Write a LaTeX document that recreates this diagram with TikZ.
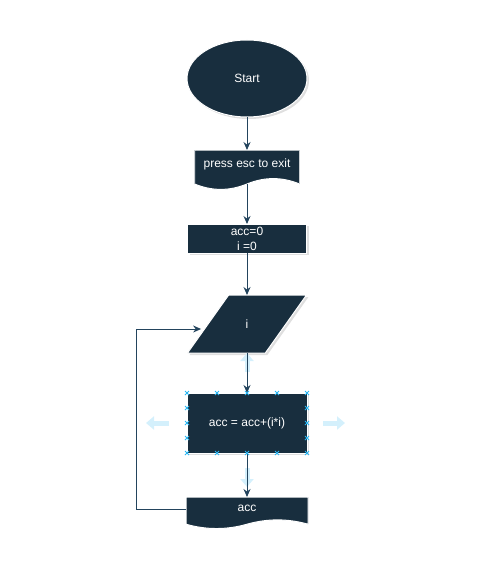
\documentclass[tikz,border=0pt]{standalone}
\usepackage{fontspec}
\setmainfont{Liberation Sans}
\usetikzlibrary{positioning,shapes.geometric,arrows.meta,shadows,calc}
\definecolor{navy}{HTML}{182E3E}
\definecolor{edgecol}{HTML}{23445D}
\definecolor{handle}{HTML}{29B6F2}
\definecolor{hovercol}{HTML}{D4F0FC}

\begin{document}
\begin{tikzpicture}[x=1pt, y=-1pt,
  every node/.style={font=\fontsize{12}{15}\selectfont, text=white, inner sep=0pt, outer sep=0pt},
  box/.style={fill=navy, draw=white, line width=1pt,
    drop shadow={shadow xshift=2pt, shadow yshift=-2pt, opacity=0.25}},
  terminal/.style={box, ellipse, minimum width=120pt, minimum height=77pt},
  process/.style={box, rectangle},
  inout/.style={box, trapezium, trapezium stretches=true,
    trapezium left angle=71, trapezium right angle=109},
  doc/.style={rectangle, text height=9pt, path picture={
      \filldraw[fill=navy, draw=white, line width=1pt]
        let \p1=(path picture bounding box.south west),
            \p2=(path picture bounding box.north east),
            \n1={\x2-\x1}, \n2={0.3*(\y2-\y1)} in
        (\x1,\y2) -- (\x2,\y2) -- (\x2,\y1+0.5*\n2)
        .. controls (\x2-\n1/6,\y1+1.1*\n2) and (\x1+2*\n1/3,\y1+1.1*\n2) .. (\x1+\n1/2,\y1+0.5*\n2)
        .. controls (\x1+\n1/3,\y1-0.1*\n2) and (\x1+\n1/6,\y1-0.1*\n2) .. (\x1,\y1+0.5*\n2) -- cycle;}},
  flow/.style={draw=edgecol, line width=1pt, -{Stealth[length=8pt,width=7pt]}},
  hover/.style={draw=hovercol, line width=5pt, -{Triangle[length=8pt,width=13pt]}},
  handlemark/.style={draw=handle, line width=0.8pt}]

  \useasboundingbox (0,0) rectangle (494,583);

  % Define nodes
  \node[terminal]                                                      (start)  at (247,78.5) {Start};
  \node[doc, below=33pt of start, minimum width=105pt, minimum height=40pt, text depth=15pt] (press) {press esc to exit};
  \node[process, below=34pt of press, minimum width=119pt, minimum height=29pt, align=center] (init) {acc=0\\i =0};
  \node[inout, below=42pt of init, minimum width=119pt, minimum height=58pt]  (para)   {i};
  \node[process, below=40pt of para, minimum width=120pt, minimum height=60pt] (calc)   {acc = acc+(i*i)};
  \node[doc, below=44pt of calc, minimum width=122pt, minimum height=32pt, text depth=12pt]  (accout) {acc};

  % Hover arrows round the selected shape
  \draw[hover] ([xshift=-18pt]calc.west) -- ([xshift=-41pt]calc.west);
  \draw[hover] ([xshift=16pt]calc.east) -- ([xshift=38pt]calc.east);
  \draw[hover] ([yshift=-19pt]para.south) -- ([yshift=0pt]para.south);
  \draw[hover] ([yshift=-15pt]calc.south) -- ([yshift=-34pt]calc.south);

  % Connect the nodes
  \draw[flow] (start.south) -- (press.north);
  \draw[flow] ([yshift=6pt]press.south) -- (init.north);
  \draw[flow] (init.south) -- (para.north);
  \draw[flow] (para.south) -- (calc.north);
  \draw[flow] (calc.south) -- (accout.north);
  \draw[flow] ([yshift=4pt]accout.west) -| ([xshift=-50pt,yshift=-5pt]accout.west |- para.west)
    -- ([xshift=-7pt,yshift=-5pt]para.west);

  % Selection handles
  \foreach \f in {0,0.25,0.5,0.75,1}{
    \draw[handlemark] ($(calc.north west)!\f!(calc.north east)$) +(-2,-2) -- +(2,2) +(-2,2) -- +(2,-2);
    \draw[handlemark] ($(calc.south west)!\f!(calc.south east)$) +(-2,-2) -- +(2,2) +(-2,2) -- +(2,-2);
  }
  \foreach \f in {0.25,0.5,0.75}{
    \draw[handlemark] ($(calc.north west)!\f!(calc.south west)$) +(-2,-2) -- +(2,2) +(-2,2) -- +(2,-2);
    \draw[handlemark] ($(calc.north east)!\f!(calc.south east)$) +(-2,-2) -- +(2,2) +(-2,2) -- +(2,-2);
  }

\end{tikzpicture}
\end{document}
